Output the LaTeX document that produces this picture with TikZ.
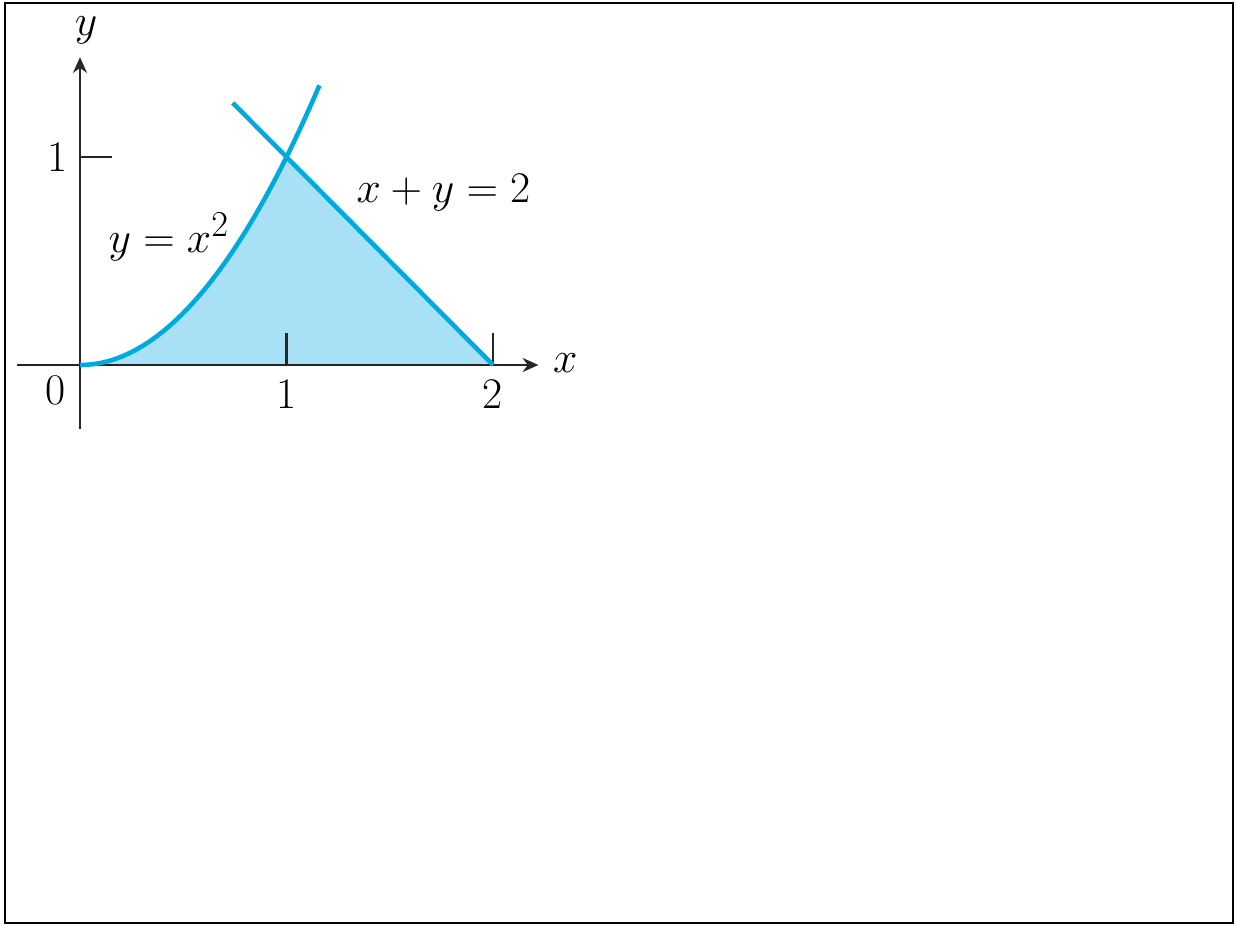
\documentclass[tikz,border=0pt]{standalone}
\usetikzlibrary{arrows.meta}
\definecolor{curveblue}{RGB}{0,170,222}
\definecolor{fillblue}{RGB}{168,224,245}

\begin{document}
\begin{tikzpicture}[x=4.13cm,y=4.16cm,>={Stealth[length=9pt,width=8pt]},
  font=\Huge,
  ax/.style={line width=1.2pt,black!85},
  crv/.style={line width=2.6pt,curveblue},
  lbl/.style={inner sep=0pt}]
\useasboundingbox (-1.6cm,-11.22cm) rectangle (23.14cm,7.3cm);
\draw[line width=1.5pt] (-1.5cm,-11.16cm) rectangle (23.06cm,7.24cm);
% region between y=x^2 and x+y=2
\fill[fillblue] plot[domain=0:1,samples=50] (\x,{\x*\x}) -- (2,0) -- cycle;
% axes
\coordinate (xl) at (-0.305,0);
\coordinate (xr) at (2.22,0);
\coordinate (yb) at (0,-0.31);
\coordinate (yt) at (0,1.48);
\draw[ax,->] (xl) -- (xr);
\draw[ax,->] (yb) -- (yt);
\node[lbl] (lx) at (2.35,0.01) {$x$};
\node[lbl] (ly) at (0.03,1.61) {$y$};
% ticks
\coordinate (t1) at (1,0);
\coordinate (t2) at (2,0);
\coordinate (ty) at (0,1);
\draw[ax] (t1) -- ++(0,0.155);
\draw[ax] (t2) -- ++(0,0.155);
\draw[ax] (ty) -- ++(0.155,0);
\node[lbl] (n0) at (-0.12,-0.12) {0};
\node[lbl] (n1) at (1,-0.14) {1};
\node[lbl] (n2) at (2,-0.14) {2};
\node[lbl] (m1) at (-0.11,1) {1};
% curves
\draw[crv] plot[domain=0:1.16,samples=60] (\x,{\x*\x});
\coordinate (la) at (0.74,1.26);
\draw[crv] (la) -- (t2);
\node[lbl] (eqp) at (0.43,0.615) {$y = x^2$};
\node[lbl] (eql) at (1.76,0.83) {$x + y = 2$};
\end{tikzpicture}
\end{document}
